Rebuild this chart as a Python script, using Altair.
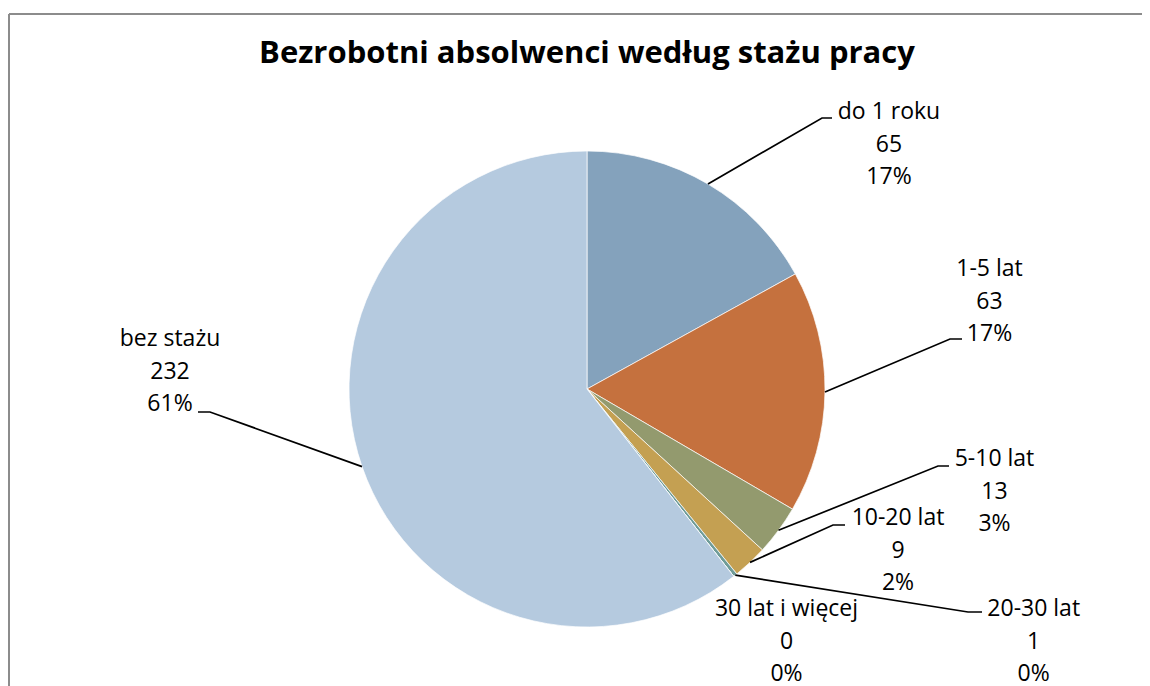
import math
import altair as alt
import pandas as pd

# ---- data ----
categories = ["do 1 roku", "1-5 lat", "5-10 lat", "10-20 lat", "20-30 lat",
              "30 lat i więcej", "bez stażu"]
values = [65, 63, 13, 9, 1, 0, 232]
percent_labels = ["17%", "17%", "3%", "2%", "0%", "0%", "61%"]
colors = ["#84A2BC", "#C5713E", "#939A6E", "#C4A052", "#6F9C98", "#9DB6CC", "#B5CADF"]
title_text = "Bezrobotni absolwenci według stażu pracy"

# ---- layout (pixels relative to the pie centre, y pointing down) ----
R = 238
W, H = 1133, 672
X_DOM = [-578, 555]
Y_DOM = [-375, 297]
FONT = "Open Sans"
label_x = [302, 402.5, 407.5, 311, 446.7, 199.5, -417]
label_first_baseline = [-270, -113, 77, 136, 227, 227, -43]
line_gap = 32.7
# leader line bend point and end point per category (None = no leader)
leader_bend = [(235, -271), (363, -50), (351, 77), (246, 136), (381, 223), None, (-377, 23)]
leader_end = [(245, -271), (375, -50), (362, 77), (258, 136), (395, 223), None, (-389, 23)]

total = sum(values)
pie_df = pd.DataFrame({"cat": categories, "value": values, "idx": list(range(len(values)))})

# leader lines: start on the pie edge at each slice's mid angle
rows = []
cum = 0
for i, (c, v) in enumerate(zip(categories, values)):
    mid = (cum + v / 2) / total * 2 * math.pi
    cum += v
    if leader_bend[i] is None:
        continue
    sx, sy = R * math.sin(mid), -R * math.cos(mid)
    pts = [(sx, sy), leader_bend[i], leader_end[i]]
    for k, (px, py) in enumerate(pts):
        rows.append({"cat": c, "pt": k, "x": px, "y": py})
lines_df = pd.DataFrame(rows)

trows = []
for i, c in enumerate(categories):
    for k, t in enumerate([c, str(values[i]), percent_labels[i]]):
        trows.append({"cat": c, "text": t, "x": label_x[i],
                      "y": label_first_baseline[i] + k * line_gap})
text_df = pd.DataFrame(trows)

xs = alt.Scale(domain=X_DOM, nice=False, zero=False)
ys = alt.Scale(domain=Y_DOM, nice=False, zero=False, reverse=True)

pie = alt.Chart(pie_df).mark_arc(outerRadius=R, stroke="#FFFFFF", strokeWidth=0.7).encode(
    theta=alt.Theta("value:Q", stack=True),
    color=alt.Color("cat:N", scale=alt.Scale(domain=categories, range=colors), legend=None),
    order=alt.Order("idx:Q"),
    x=alt.datum(0, scale=xs, axis=None),
    y=alt.datum(0, scale=ys, axis=None),
)

leaders = alt.Chart(lines_df).mark_line(color="#000000", strokeWidth=1.7).encode(
    x=alt.X("x:Q", scale=xs, axis=None),
    y=alt.Y("y:Q", scale=ys, axis=None),
    detail="cat:N",
    order="pt:Q",
)

labels = alt.Chart(text_df).mark_text(
    font=FONT, fontSize=23, color="#000000", align="center", baseline="alphabetic"
).encode(
    x=alt.X("x:Q", scale=xs, axis=None),
    y=alt.Y("y:Q", scale=ys, axis=None),
    text="text:N",
)

title = alt.Chart(pd.DataFrame({"t": [title_text]})).mark_text(
    font=FONT, fontSize=31, fontWeight="bold", color="#000000",
    align="center", baseline="alphabetic"
).encode(
    x=alt.datum(0, scale=xs, axis=None),
    y=alt.datum(-326, scale=ys, axis=None),
    text="t:N",
)

frame_top = alt.Chart(pie_df).mark_rule(color="#8C8C8C", strokeWidth=2).encode(
    x=alt.value(0), x2=alt.value(W), y=alt.value(0)
)
frame_left = alt.Chart(pie_df).mark_rule(color="#8C8C8C", strokeWidth=2).encode(
    x=alt.value(0), y=alt.value(0), y2=alt.value(H)
)

chart = alt.layer(pie, leaders, labels, title, frame_top, frame_left).properties(
    width=W, height=H,
    padding={"left": 1, "top": 6, "right": 0, "bottom": 0},
    autosize=alt.AutoSizeParams(type="none"),
).configure_view(stroke=None)

chart.save("out.html", embed_options={"renderer": "svg", "actions": False})
